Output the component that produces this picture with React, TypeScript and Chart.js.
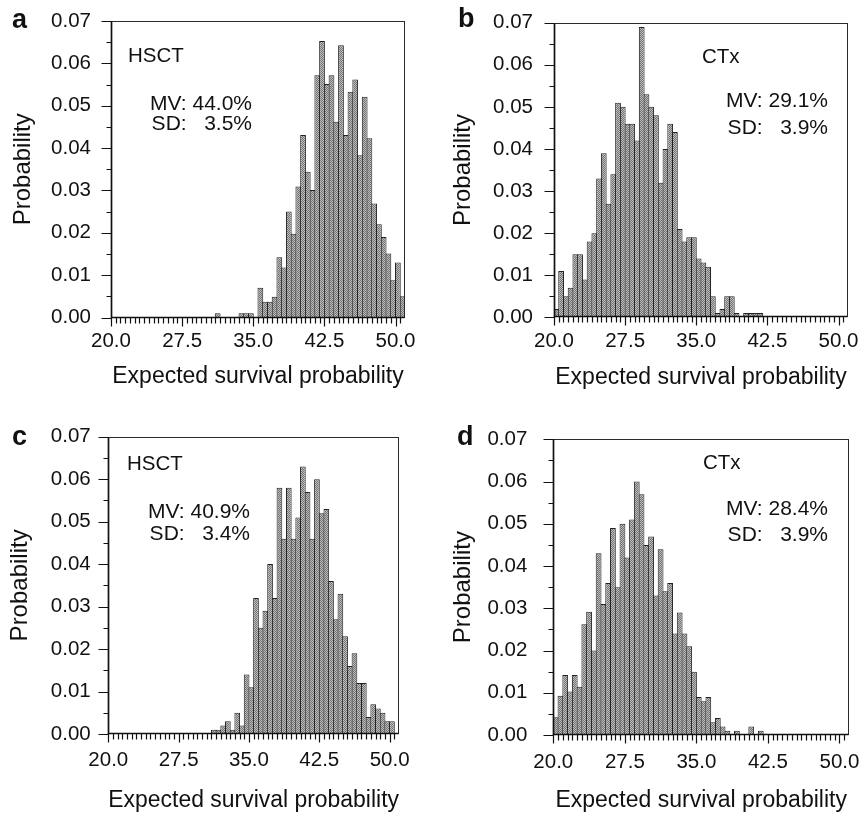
import React, { useEffect, useRef } from "react";
import { Chart, registerables } from "chart.js";

Chart.register(...registerables);

const FONT = '"Liberation Sans", Arial, Helvetica, sans-serif';
const INK = "#111111";

// Histogram classes: 0.5 %-wide bins starting at 20.0 %
const BIN_START = 20;
const BIN_WIDTH = 0.5;

const X_MIN = 20;
const X_MAX = 51;
const X_TICKS = [20, 27.5, 35, 42.5, 50];
const Y_MAX = 0.07;
const Y_TICKS = [0, 0.01, 0.02, 0.03, 0.04, 0.05, 0.06, 0.07];

const X_TITLE = "Expected survival probability";
const Y_TITLE = "Probability";

const PANEL_LETTERS = ["a", "b", "c", "d"];
const GROUPS = ["HSCT", "CTx", "HSCT", "CTx"];
const MV_TEXT = ["MV: 44.0%", "MV: 29.1%", "MV: 40.9%", "MV: 28.4%"];
const SD_TEXT = ["SD:   3.5%", "SD:   3.9%", "SD:   3.4%", "SD:   3.9%"];

// Panel a (HSCT) — first bin index 22 (31.0–31.5)
const A_FIRST_BIN = 22;
const A_VALUES = [
  0.001, 0, 0, 0, 0, 0.001, 0.001, 0.001, 0, 0.007,
  0.0037, 0.0037, 0.0049, 0.0142, 0.0118, 0.025, 0.0198, 0.0309, 0.0431, 0.0344,
  0.0301, 0.0572, 0.0653, 0.0551, 0.0572, 0.0462, 0.0643, 0.0431, 0.0533, 0.0562,
  0.0383, 0.0521, 0.0423, 0.0269, 0.022, 0.019, 0.0151, 0.0088, 0.013, 0.005,
];

// Panel b (CTx) — first bin index 0 (20.0–20.5)
const B_FIRST_BIN = 0;
const B_VALUES = [
  0.002, 0.011, 0.005, 0.007, 0.015, 0.015, 0.009, 0.018, 0.02, 0.033,
  0.039, 0.027, 0.034, 0.051, 0.05, 0.046, 0.046, 0.042, 0.069, 0.053,
  0.05, 0.048, 0.032, 0.04, 0.046, 0.044, 0.021, 0.018, 0.019, 0.019,
  0.014, 0.013, 0.012, 0.005, 0.001, 0.002, 0.005, 0.005, 0.001, 0,
  0.001, 0.001, 0.001, 0.001,
];

// Panel c (HSCT) — first bin index 22
const C_FIRST_BIN = 22;
const C_VALUES = [
  0.001, 0.001, 0.002, 0.003, 0.001, 0.005, 0.002, 0.014, 0.011, 0.032,
  0.025, 0.029, 0.04, 0.032, 0.058, 0.046, 0.058, 0.046, 0.051, 0.063,
  0.057, 0.046, 0.06, 0.052, 0.053, 0.036, 0.027, 0.033, 0.023, 0.016,
  0.019, 0.012, 0.012, 0.004, 0.007, 0.006, 0.005, 0.003, 0.003,
];

// Panel d (CTx) — first bin index 0
const D_FIRST_BIN = 0;
const D_VALUES = [
  0.0042, 0.0093, 0.0142, 0.0103, 0.0142, 0.0114, 0.0262, 0.0292, 0.02, 0.043,
  0.031, 0.036, 0.049, 0.035, 0.05, 0.042, 0.051, 0.06, 0.057, 0.045,
  0.047, 0.033, 0.044, 0.034, 0.036, 0.024, 0.029, 0.024, 0.021, 0.015,
  0.009, 0.008, 0.009, 0.003, 0.004, 0.002, 0.001, 0, 0.001, 0,
  0, 0.002, 0, 0.001,
];

const SERIES = [
  { first: A_FIRST_BIN, values: A_VALUES },
  { first: B_FIRST_BIN, values: B_VALUES },
  { first: C_FIRST_BIN, values: C_VALUES },
  { first: D_FIRST_BIN, values: D_VALUES },
];

// Layout (page coordinates)
const LAYOUT = [
  {
    left: 0, top: 0, w: 431, h: 400, area: [111, 21, 405, 317.5],
    yTickPad: 20, xTickPad: 11.5, yTitlePad: 11, xTitlePad: 11.5,
    letter: [12, 28], group: [128, 56.5], mv: [252, 104.5], sd: [252, 124.5],
  },
  {
    left: 431, top: 0, w: 432, h: 400, area: [554, 22.7, 848, 317.3],
    yTickPad: 21, xTickPad: 11.7, yTitlePad: 20, xTitlePad: 10.5,
    letter: [458, 27], group: [702, 57], mv: [828, 101.3], sd: [828, 128.7],
  },
  {
    left: 0, top: 410, w: 431, h: 403, area: [108.3, 436.7, 399, 734],
    yTickPad: 17.6, xTickPad: 14.5, yTitlePad: 8, xTitlePad: 0.5,
    letter: [12, 445], group: [127, 464], mv: [250, 512.5], sd: [250, 534.5],
  },
  {
    left: 431, top: 410, w: 432, h: 403, area: [553.3, 439.3, 849, 735],
    yTickPad: 26, xTickPad: 15, yTitlePad: 20, xTitlePad: 0.5,
    letter: [457, 445], group: [703, 463], mv: [828, 509], sd: [828, 535],
  },
];

function makeStipple(): CanvasPattern | string {
  const c = document.createElement("canvas");
  c.width = 2;
  c.height = 2;
  const g = c.getContext("2d");
  if (!g) return "#9a9a9a";
  g.fillStyle = "#bdbdbd";
  g.fillRect(0, 0, 2, 2);
  g.fillStyle = "#727272";
  g.fillRect(0, 0, 1, 1);
  g.fillRect(1, 1, 1, 1);
  return g.createPattern(c, "repeat") || "#9a9a9a";
}

const decorPlugin = {
  id: "decor",
  afterDatasetsDraw(chart: any) {
    const { ctx, chartArea: ca, scales } = chart;
    const xs = scales.x;
    const ys = scales.y;
    const L = Math.round(ca.left) + 0.5;
    const R = Math.round(ca.right) - 0.5;
    const T = Math.round(ca.top) + 0.5;
    const B = Math.round(ca.bottom) - 0.5;
    ctx.save();
    ctx.strokeStyle = "#2a2a2a";
    ctx.lineWidth = 1;
    ctx.strokeRect(L, T, R - L, B - T);
    ctx.strokeStyle = "#111";
    ctx.lineWidth = 1.7;
    ctx.beginPath();
    ctx.moveTo(L, T);
    ctx.lineTo(L, B);
    ctx.lineTo(R, B);
    ctx.stroke();

    ctx.lineWidth = 1.2;
    ctx.beginPath();
    const nX = Math.round((50.5 - X_MIN) / BIN_WIDTH);
    for (let i = 0; i <= nX; i++) {
      const v = X_MIN + i * BIN_WIDTH;
      const px = Math.round(xs.getPixelForValue(v)) + 0.5;
      const major = X_TICKS.includes(v);
      ctx.moveTo(px, B);
      ctx.lineTo(px, B + (major ? 9 : 6));
    }
    for (let j = 0; j <= 14; j++) {
      const v = j * 0.005;
      const py = Math.round(ys.getPixelForValue(v)) + 0.5;
      const major = j % 2 === 0;
      ctx.moveTo(L, py);
      ctx.lineTo(L - (major ? 10 : 5), py);
    }
    ctx.stroke();
    ctx.restore();
  },
  afterDraw(chart: any, _args: any, opts: any) {
    const { ctx } = chart;
    const ox = opts.ox;
    const oy = opts.oy;
    ctx.save();
    ctx.fillStyle = INK;
    ctx.textBaseline = "alphabetic";
    ctx.textAlign = "left";
    ctx.font = `bold 27px ${FONT}`;
    ctx.fillText(opts.letter, opts.letterPos[0] - ox, opts.letterPos[1] - oy);

    ctx.font = `20.5px ${FONT}`;
    ctx.textBaseline = "middle";
    ctx.fillText(opts.group, opts.groupPos[0] - ox, opts.groupPos[1] - oy);
    ctx.font = `21px ${FONT}`;
    ctx.textAlign = "right";
    ctx.fillText(opts.mv, opts.mvPos[0] - ox, opts.mvPos[1] - oy);
    ctx.fillText(opts.sd, opts.sdPos[0] - ox, opts.sdPos[1] - oy);
    ctx.restore();
  },
};

function Panel({ idx }: { idx: number }) {
  const ref = useRef<HTMLCanvasElement>(null);
  const lay = LAYOUT[idx];
  useEffect(() => {
    const canvas = ref.current;
    if (!canvas) return;
    const ctx = canvas.getContext("2d");
    if (!ctx) return;
    const s = SERIES[idx];
    const points = s.values.map((v, i) => ({
      x: BIN_START + (s.first + i + 0.5) * BIN_WIDTH,
      y: v,
    }));
    const aL = lay.area[0] - lay.left;
    const aT = lay.area[1] - lay.top;
    const aR = lay.area[2] - lay.left;
    const aB = lay.area[3] - lay.top;
    const chart = new Chart(ctx, {
      type: "bar",
      data: {
        datasets: [
          {
            data: points as any,
            backgroundColor: makeStipple() as any,
            borderColor: "#222222",
            borderWidth: 1,
            barPercentage: 1.21,
            categoryPercentage: 1,
          },
        ],
      },
      options: {
        responsive: false,
        animation: false,
        devicePixelRatio: 1,
        layout: { padding: { left: 0, top: aT, right: lay.w - aR, bottom: 0 } },
        plugins: {
          legend: { display: false },
          tooltip: { enabled: false },
          decor: {
            ox: lay.left,
            oy: lay.top,
            letter: PANEL_LETTERS[idx],
            letterPos: lay.letter,
            group: GROUPS[idx],
            groupPos: lay.group,
            mv: MV_TEXT[idx],
            sd: SD_TEXT[idx],
            mvPos: lay.mv,
            sdPos: lay.sd,
          },
        } as any,
        scales: {
          x: {
            type: "linear",
            min: X_MIN,
            max: X_MAX,
            offset: false,
            grid: { display: false, drawTicks: false },
            border: { display: false },
            afterBuildTicks: (sc: any) => {
              sc.ticks = X_TICKS.map((v) => ({ value: v }));
            },
            afterFit: (sc: any) => {
              sc.height = lay.h - aB;
              sc.paddingLeft = 0;
              sc.paddingRight = 0;
              sc.paddingTop = 0;
              sc.paddingBottom = 0;
            },
            ticks: {
              autoSkip: false,
              maxRotation: 0,
              minRotation: 0,
              padding: lay.xTickPad,
              color: INK,
              font: { family: FONT, size: 20.5 },
              callback: (v: any) => Number(v).toFixed(1),
            },
            title: {
              display: true,
              text: X_TITLE,
              color: INK,
              font: { family: FONT, size: 23, lineHeight: 1 },
              padding: { top: 0, bottom: lay.xTitlePad },
            },
          },
          y: {
            type: "linear",
            min: 0,
            max: Y_MAX,
            grid: { display: false, drawTicks: false },
            border: { display: false },
            afterBuildTicks: (sc: any) => {
              sc.ticks = Y_TICKS.map((v) => ({ value: v }));
            },
            afterFit: (sc: any) => {
              sc.width = aL;
              sc.paddingLeft = 0;
              sc.paddingRight = 0;
              sc.paddingTop = 0;
              sc.paddingBottom = 0;
            },
            ticks: {
              padding: lay.yTickPad,
              color: INK,
              font: { family: FONT, size: 20.5 },
              callback: (v: any) => Number(v).toFixed(2),
            },
            title: {
              display: true,
              text: Y_TITLE,
              color: INK,
              font: { family: FONT, size: 24, lineHeight: 1 },
              padding: { top: lay.yTitlePad, bottom: 0 },
            },
          },
        },
      },
      plugins: [decorPlugin as any],
    });
    return () => chart.destroy();
  }, [idx]);
  return (
    <canvas
      ref={ref}
      width={lay.w}
      height={lay.h}
      style={{ position: "absolute", left: lay.left, top: lay.top, width: lay.w, height: lay.h }}
    />
  );
}

export default function App() {
  return (
    <div style={{ position: "absolute", left: 0, top: 0, width: 863, height: 813, background: "#ffffff" }}>
      {[0, 1, 2, 3].map((i) => (
        <Panel key={i} idx={i} />
      ))}
    </div>
  );
}
